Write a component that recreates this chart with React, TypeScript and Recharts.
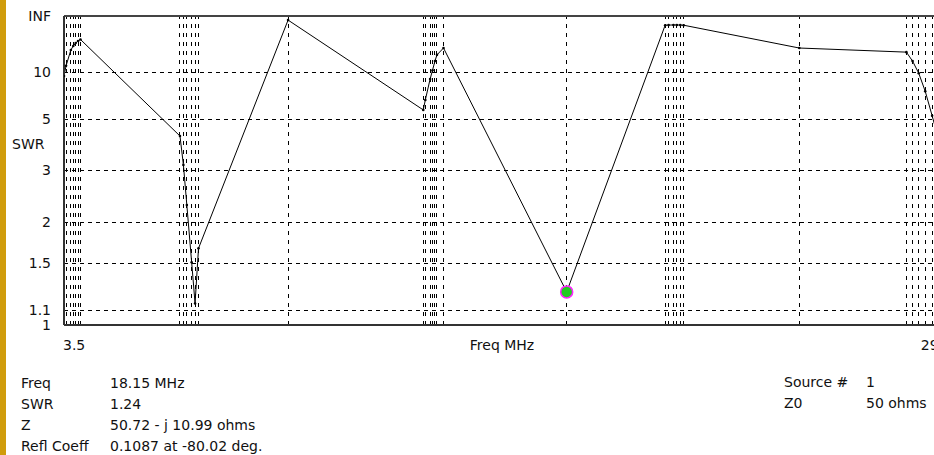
import {
  CartesianGrid,
  Line,
  LineChart,
  ReferenceDot,
  ReferenceLine,
  XAxis,
  YAxis,
} from "recharts";

// sweep points, band by band (80, 40, 30, 20, 17, 15, 12, 10 m)
const freqMHz = [
  3.5, 3.56, 3.7, 3.77, 3.84, 3.91, 3.98,
  6.88, 6.98, 7.08, 7.22, 7.32, 7.42,
  10.03,
  13.97, 14.03, 14.17, 14.24, 14.31, 14.37, 14.56,
  18.15,
  21.02, 21.12, 21.26, 21.36, 21.46, 21.56,
  24.93,
  28.05, 28.23, 28.41, 28.6, 28.8, 28.99,
];
const swr = [
  9.3, 11.4, 17.2, 19.6, 21.9, 23.7, 25.3,
  4.15, 3.15, 2.27, 1.51, 1.15, 1.66,
  150,
  5.58, 6.36, 8.8, 10.4, 12.7, 14.9, 18.3,
  1.24,
  66, 67, 68, 68, 67, 66,
  18.3,
  16.1, 12.7, 9.8, 7.2, 5.2, 4.0,
];

const swrTicks = [1, 1.1, 1.5, 2, 3, 5, 10, Infinity];
const swrTickLabels = ["1", "1.1", "1.5", "2", "3", "5", "10", "INF"];
const freqTicks = [3.5, 29.7];

const markerFreq = 18.15;
const markerSwr = 1.24;

const readoutLabels = ["Freq", "SWR", "Z", "Refl Coeff"];
const readoutValues = ["18.15 MHz", "1.24", "50.72 - j 10.99 ohms", "0.1087 at -80.02 deg."];
const sourceLabels = ["Source #", "Z0"];
const sourceValues = ["1", "50 ohms"];

const FONT = "'DejaVu Sans', Verdana, sans-serif";

// the plot is linear in reflection coefficient, labelled in SWR
const toRho = (s: number) => (s === Infinity ? 1 : (s - 1) / (s + 1));

const data = freqMHz.map((f, i) => ({ f, rho: toRho(swr[i]) }));
const rhoTicks = swrTicks.map(toRho);

const FreqTick = (props: any) => {
  const { x, y, payload, index } = props;
  const first = index === 0;
  return (
    <text
      x={x}
      y={y}
      dx={first ? -1 : -11}
      dy="0.71em"
      textAnchor={first ? "start" : "end"}
      fontSize={14}
      fontFamily={FONT}
      fill="#111"
    >
      {payload.value}
    </text>
  );
};

export default function App() {
  return (
    <div
      style={{
        position: "absolute",
        left: 0,
        top: 0,
        width: 934,
        height: 455,
        overflow: "hidden",
        background: "#fff",
        fontFamily: FONT,
      }}
    >
      <div
        style={{
          position: "absolute",
          left: 0,
          top: 0,
          width: 6,
          height: 455,
          background: "#d09c0c",
        }}
      />
      <LineChart
        width={973}
        height={455}
        data={data}
        margin={{ top: 16, right: 10, bottom: 100, left: 0 }}
        style={{ fontFamily: FONT }}
      >
        <CartesianGrid
          vertical={false}
          stroke="#000"
          strokeDasharray="4 4"
          shapeRendering="crispEdges"
        />
        {freqMHz.map((f) => (
          <ReferenceLine
            key={f}
            x={f}
            stroke="#000"
            strokeDasharray="4 5"
            shapeRendering="crispEdges"
            ifOverflow="hidden"
          />
        ))}
        <ReferenceLine y={1} stroke="#444" strokeWidth={2} />
        <XAxis
          type="number"
          dataKey="f"
          domain={[3.5, 29.7]}
          ticks={freqTicks}
          interval={0}
          height={30}
          tickSize={6}
          tickMargin={9}
          tickLine={false}
          axisLine={{ stroke: "#333", strokeWidth: 2 }}
          tick={<FreqTick />}
          allowDataOverflow
          label={{
            content: (p: any) => (
              <text
                x={p.viewBox.x + 438}
                y={p.viewBox.y + 15}
                dy="0.71em"
                textAnchor="middle"
                fontSize={14}
                fontFamily={FONT}
                fill="#111"
              >
                Freq MHz
              </text>
            ),
          }}
        />
        <YAxis
          type="number"
          domain={[0, 1]}
          ticks={rhoTicks}
          interval={0}
          width={64}
          tickSize={6}
          tickMargin={7}
          tickLine={false}
          axisLine={{ stroke: "#333", strokeWidth: 2 }}
          tick={{ fontSize: 14, fill: "#111", fontFamily: FONT }}
          tickFormatter={(v: number) => swrTickLabels[rhoTicks.indexOf(v)] ?? ""}
          label={{
            content: () => (
              <text x={12} y={149} fontSize={14} fontFamily={FONT} fill="#111">
                SWR
              </text>
            ),
          }}
        />
        <Line
          type="linear"
          dataKey="rho"
          stroke="#000"
          strokeWidth={1}
          dot={{ r: 1.3, fill: "#000", stroke: "none" }}
          activeDot={false}
          isAnimationActive={false}
        />
        <ReferenceDot
          x={markerFreq}
          y={toRho(markerSwr)}
          r={6}
          fill="#22cc22"
          stroke="#ff22ff"
          strokeWidth={1.5}
        />
      </LineChart>
      <svg
        width={934}
        height={100}
        style={{ position: "absolute", left: 0, top: 360 }}
        fontFamily={FONT}
        fontSize={14}
        fill="#111"
      >
        {readoutLabels.map((t, i) => (
          <g key={t}>
            <text x={21} y={28 + i * 21}>{t}</text>
            <text x={110} y={28 + i * 21}>{readoutValues[i]}</text>
          </g>
        ))}
        {sourceLabels.map((t, i) => (
          <g key={t}>
            <text x={784} y={27 + i * 21}>{t}</text>
            <text x={866} y={27 + i * 21}>{sourceValues[i]}</text>
          </g>
        ))}
      </svg>
    </div>
  );
}
